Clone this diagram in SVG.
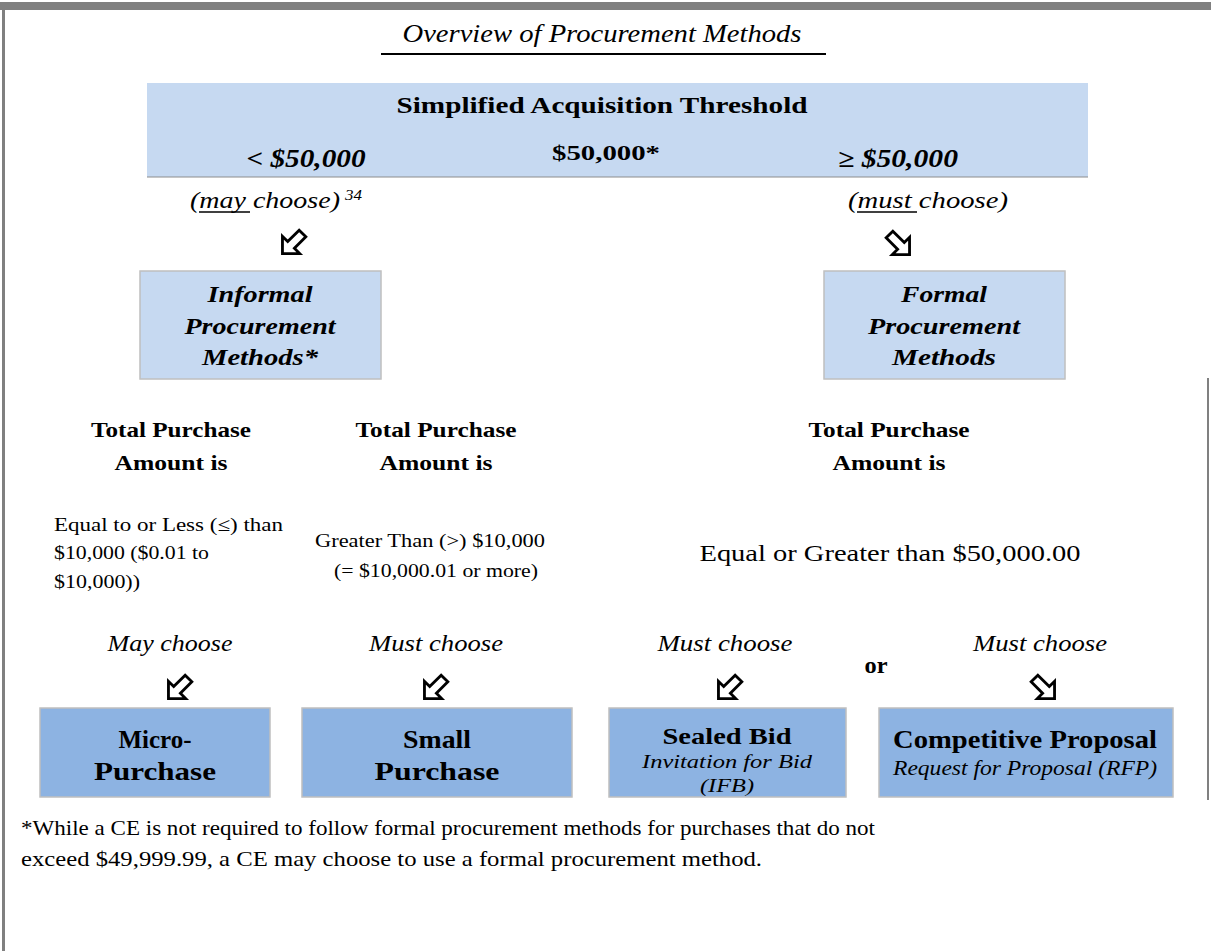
<svg xmlns="http://www.w3.org/2000/svg" xmlns:xlink="http://www.w3.org/1999/xlink" width="1211" height="951" viewBox="0 0 1211 951">
<style>
.t{font-family:"Liberation Serif","Times New Roman",serif;fill:#000}
.b{font-weight:bold}
.i{font-style:italic}
.lb{fill:#C6D9F1;stroke:#BFBFBF;stroke-width:1.5}
.db{fill:#8DB3E2;stroke:#BFBFBF;stroke-width:1.5}
.ul{stroke:#000;stroke-width:1.5}
</style>
<defs>
<path id="arw" d="M-3.5,-11 L3.5,-11 L3.5,1 L9,1 L0,10 L-9,1 L-3.5,1 Z" fill="#fff" stroke="#000" stroke-width="2.1" stroke-linejoin="miter"/>
</defs>
<rect width="1211" height="951" fill="#fff"/>
<g id="frame">
<rect x="0" y="2" width="1211" height="8" fill="#808080"/>
<rect x="2" y="10" width="3" height="941" fill="#808080"/>
<rect x="1207" y="378" width="2" height="422" fill="#808080"/>
</g>
<g id="title">
<text class="t i" x="602" y="42" font-size="25" text-anchor="middle" textLength="399" lengthAdjust="spacingAndGlyphs">Overview of Procurement Methods</text>
<line x1="381" y1="54" x2="826" y2="54" stroke="#000" stroke-width="2"/>
</g>
<g id="threshold">
<rect x="147" y="83" width="941" height="94" fill="#C6D9F1"/>
<line x1="147" y1="177" x2="1088" y2="177" stroke="#8C8C8C" stroke-width="1"/>
<text class="t b" x="602" y="113" font-size="24" text-anchor="middle" textLength="411" lengthAdjust="spacingAndGlyphs">Simplified Acquisition Threshold</text>
<text class="t b i" x="306" y="167" font-size="25" text-anchor="middle" textLength="119" lengthAdjust="spacingAndGlyphs">&lt; $50,000</text>
<text class="t b" x="606" y="160" font-size="22" text-anchor="middle" textLength="108" lengthAdjust="spacingAndGlyphs">$50,000*</text>
<text class="t b i" x="898" y="167" font-size="25" text-anchor="middle" textLength="120" lengthAdjust="spacingAndGlyphs">≥ $50,000</text>
</g>
<g id="may-choose">
<text class="t i" x="190" y="208" font-size="23" textLength="150" lengthAdjust="spacingAndGlyphs">(may choose)</text>
<text class="t i" x="345" y="200" font-size="14" textLength="17" lengthAdjust="spacingAndGlyphs">34</text>
<line class="ul" x1="199" y1="212" x2="250" y2="212"/>
<use xlink:href="#arw" transform="translate(292,244) rotate(45) scale(1.35)"/>
</g>
<g id="must-choose">
<text class="t i" x="848" y="208" font-size="23" textLength="160" lengthAdjust="spacingAndGlyphs">(must choose)</text>
<line class="ul" x1="857" y1="212" x2="917" y2="212"/>
<use xlink:href="#arw" transform="translate(900,245) rotate(-45) scale(1.35)"/>
</g>
<g id="informal">
<rect class="lb" x="140" y="271" width="241" height="108"/>
<text class="t b i" x="260" y="302" font-size="24" text-anchor="middle" textLength="105" lengthAdjust="spacingAndGlyphs">Informal</text>
<text class="t b i" x="260" y="334" font-size="24" text-anchor="middle" textLength="151" lengthAdjust="spacingAndGlyphs">Procurement</text>
<text class="t b i" x="260" y="365" font-size="24" text-anchor="middle" textLength="116" lengthAdjust="spacingAndGlyphs">Methods*</text>
</g>
<g id="formal">
<rect class="lb" x="824" y="271" width="241" height="108"/>
<text class="t b i" x="944" y="302" font-size="24" text-anchor="middle" textLength="86" lengthAdjust="spacingAndGlyphs">Formal</text>
<text class="t b i" x="944" y="334" font-size="24" text-anchor="middle" textLength="152" lengthAdjust="spacingAndGlyphs">Procurement</text>
<text class="t b i" x="944" y="365" font-size="24" text-anchor="middle" textLength="104" lengthAdjust="spacingAndGlyphs">Methods</text>
</g>
<g id="amount-1">
<text class="t b" x="171" y="437" font-size="22" text-anchor="middle" textLength="160" lengthAdjust="spacingAndGlyphs">Total Purchase</text>
<text class="t b" x="171" y="470" font-size="22" text-anchor="middle" textLength="113" lengthAdjust="spacingAndGlyphs">Amount is</text>
<text class="t" x="54" y="531" font-size="19" textLength="229" lengthAdjust="spacingAndGlyphs">Equal to or Less (≤) than</text>
<text class="t" x="54" y="559" font-size="18" textLength="155" lengthAdjust="spacingAndGlyphs">$10,000 ($0.01 to</text>
<text class="t" x="54" y="588" font-size="18" textLength="86" lengthAdjust="spacingAndGlyphs">$10,000))</text>
</g>
<g id="amount-2">
<text class="t b" x="436" y="437" font-size="22" text-anchor="middle" textLength="161" lengthAdjust="spacingAndGlyphs">Total Purchase</text>
<text class="t b" x="436" y="470" font-size="22" text-anchor="middle" textLength="113" lengthAdjust="spacingAndGlyphs">Amount is</text>
<text class="t" x="430" y="547" font-size="18" text-anchor="middle" textLength="230" lengthAdjust="spacingAndGlyphs">Greater Than (&gt;) $10,000</text>
<text class="t" x="436" y="577" font-size="18" text-anchor="middle" textLength="204" lengthAdjust="spacingAndGlyphs">(= $10,000.01 or more)</text>
</g>
<g id="amount-3">
<text class="t b" x="889" y="437" font-size="22" text-anchor="middle" textLength="161" lengthAdjust="spacingAndGlyphs">Total Purchase</text>
<text class="t b" x="889" y="470" font-size="22" text-anchor="middle" textLength="113" lengthAdjust="spacingAndGlyphs">Amount is</text>
<text class="t" x="890" y="561" font-size="24" text-anchor="middle" textLength="381" lengthAdjust="spacingAndGlyphs">Equal or Greater than $50,000.00</text>
</g>
<g id="choices">
<text class="t i" x="170" y="651" font-size="23" text-anchor="middle" textLength="125" lengthAdjust="spacingAndGlyphs">May choose</text>
<text class="t i" x="436" y="651" font-size="23" text-anchor="middle" textLength="134" lengthAdjust="spacingAndGlyphs">Must choose</text>
<text class="t i" x="725" y="651" font-size="23" text-anchor="middle" textLength="135" lengthAdjust="spacingAndGlyphs">Must choose</text>
<text class="t i" x="1040" y="651" font-size="23" text-anchor="middle" textLength="134" lengthAdjust="spacingAndGlyphs">Must choose</text>
<text class="t b" x="876" y="673" font-size="23" text-anchor="middle" textLength="23" lengthAdjust="spacingAndGlyphs">or</text>
</g>
<g id="connectors">
<use xlink:href="#arw" transform="translate(178,689) rotate(45) scale(1.35)"/>
<use xlink:href="#arw" transform="translate(434,689) rotate(45) scale(1.35)"/>
<use xlink:href="#arw" transform="translate(728,689) rotate(45) scale(1.35)"/>
<use xlink:href="#arw" transform="translate(1045,689) rotate(-45) scale(1.35)"/>
</g>
<g id="micro">
<rect class="db" x="40" y="708" width="230" height="89"/>
<text class="t b" x="155" y="748" font-size="25" text-anchor="middle" textLength="73" lengthAdjust="spacingAndGlyphs">Micro-</text>
<text class="t b" x="155" y="780" font-size="25" text-anchor="middle" textLength="122" lengthAdjust="spacingAndGlyphs">Purchase</text>
</g>
<g id="small">
<rect class="db" x="302" y="708" width="270" height="89"/>
<text class="t b" x="437" y="748" font-size="25" text-anchor="middle" textLength="68" lengthAdjust="spacingAndGlyphs">Small</text>
<text class="t b" x="437" y="780" font-size="25" text-anchor="middle" textLength="125" lengthAdjust="spacingAndGlyphs">Purchase</text>
</g>
<g id="sealed">
<rect class="db" x="609" y="708" width="237" height="89"/>
<text class="t b" x="727" y="744" font-size="24" text-anchor="middle" textLength="129" lengthAdjust="spacingAndGlyphs">Sealed Bid</text>
<text class="t i" x="727" y="768" font-size="19" text-anchor="middle" textLength="170" lengthAdjust="spacingAndGlyphs">Invitation for Bid</text>
<text class="t i" x="727" y="792" font-size="19" text-anchor="middle" textLength="54" lengthAdjust="spacingAndGlyphs">(IFB)</text>
</g>
<g id="competitive">
<rect class="db" x="879" y="708" width="294" height="89"/>
<text class="t b" x="1025" y="748" font-size="25" text-anchor="middle" textLength="264" lengthAdjust="spacingAndGlyphs">Competitive Proposal</text>
<text class="t i" x="1025" y="775" font-size="20" text-anchor="middle" textLength="264" lengthAdjust="spacingAndGlyphs">Request for Proposal (RFP)</text>
</g>
<g id="footnote">
<text class="t" x="21" y="835" font-size="22" textLength="854" lengthAdjust="spacingAndGlyphs">*While a CE is not required to follow formal procurement methods for purchases that do not</text>
<text class="t" x="21" y="866" font-size="22" textLength="741" lengthAdjust="spacingAndGlyphs">exceed $49,999.99, a CE may choose to use a formal procurement method.</text>
</g>
</svg>
